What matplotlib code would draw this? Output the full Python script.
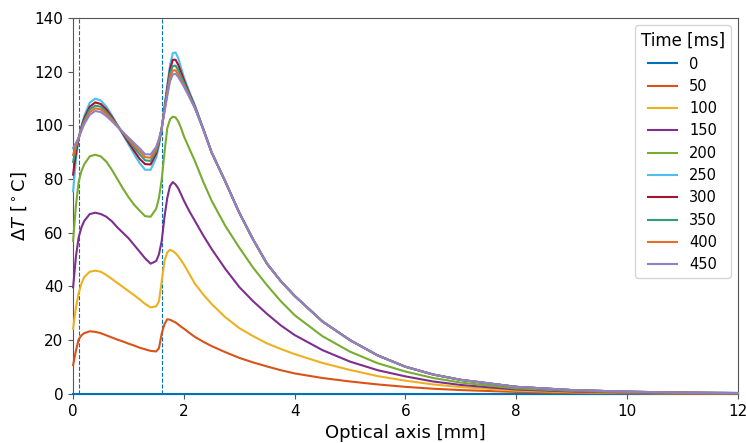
import matplotlib
matplotlib.use('Agg')
import matplotlib.pyplot as plt

# sample positions along the optical axis [mm]
x_mm = [0, 0.05, 0.1, 0.15, 0.2, 0.3, 0.4, 0.5, 0.6, 0.7,
        0.8, 0.9, 1.0, 1.1, 1.2, 1.3, 1.4, 1.5, 1.55, 1.6,
        1.65, 1.7, 1.75, 1.8, 1.85, 1.9, 1.95, 2.0, 2.1, 2.2,
        2.35, 2.5, 2.75, 3.0, 3.25, 3.5, 3.75, 4.0, 4.5, 5.0,
        5.5, 6.0, 6.5, 7.0, 8.0, 9.0, 10.0, 11.0, 12.0]

times_ms = [0, 50, 100, 150, 200, 250, 300, 350, 400, 450]

# common tail of the 250..450 ms curves, from x = 2.5 mm on
tail_top = [90, 79, 67.5, 57.5, 48.5, 42, 36.5, 27, 20,
            14.3, 10.1, 7.2, 5.2, 2.6, 1.4, 0.8, 0.45, 0.3]

dT_0 = [0.0] * 49
dT_50 = [10.7, 16, 20.3, 21.8, 22.6, 23.3, 23.1, 22.6, 21.8, 21,
         20.2, 19.5, 18.7, 18, 17.2, 16.6, 16, 15.8, 17, 22.5,
         26, 27.8, 27.6, 27.1, 26.6, 25.8, 25, 24.3, 22.7, 21.2,
         19.4, 17.8, 15.5, 13.4, 11.7, 10.2, 8.8, 7.6, 5.9, 4.6,
         3.5, 2.6, 1.9, 1.4, 0.7, 0.35, 0.2, 0.1, 0.05]
dT_100 = [24.3, 32, 37.5, 41, 43.5, 45.5, 45.9, 45.5, 44.3, 42.8,
          41.3, 39.8, 38.3, 36.8, 35.2, 33.5, 32.2, 32.6, 34.5, 42,
          49.6, 52.7, 53.7, 53.2, 52.4, 51.2, 49.8, 48.2, 44.6, 41,
          37, 33.5, 28.5, 24.5, 21.5, 18.8, 16.7, 14.8, 11.5, 8.9,
          6.6, 4.9, 3.5, 2.5, 1.2, 0.6, 0.3, 0.18, 0.1]
dT_150 = [39.7, 51, 58.3, 62, 64.4, 67, 67.5, 67, 66, 64.3,
          62, 60, 58, 55.5, 53, 50.5, 48.5, 49.5, 52, 57,
          66, 73, 77.5, 78.9, 78, 76.5, 74.3, 72, 68, 64.4,
          59, 54, 46.5, 39.8, 34.5, 29.8, 25.5, 21.9, 16.3, 12,
          8.8, 6.5, 4.6, 3.3, 1.6, 0.85, 0.45, 0.25, 0.15]
dT_200 = [57, 70, 79, 83, 85.5, 88.5, 89.1, 88.5, 86.5, 83.5,
          80, 76.5, 73.3, 70.5, 68.3, 66.2, 66, 69, 73, 80,
          90, 99, 102.3, 103.3, 103, 101.5, 99, 96, 91.3, 86.7,
          79, 72, 62.5, 54.5, 47, 40.5, 34.5, 29.3, 21.5, 15.7,
          11.4, 8.3, 5.9, 4.2, 2.0, 1.1, 0.6, 0.35, 0.2]
dT_250 = [75.5, 87, 95, 99.8, 103.5, 108.5, 110, 109.3, 107, 103.8,
          100.2, 96.6, 93, 89.4, 86, 83.5, 83.5, 88, 92.5, 99,
          107, 115, 122.5, 127, 127.2, 125, 121.5, 118, 112.5, 107.5,
          98.8] + tail_top
dT_300 = [81.7, 89.5, 95.2, 99.3, 102.6, 107, 108.6, 108, 106, 103.2,
          100, 96.9, 93.7, 90.6, 87.6, 85.6, 85.5, 89.5, 93.5, 99,
          106.5, 114, 121, 124.5, 124.5, 122.5, 119.8, 117, 111.8, 107,
          98.7] + tail_top
dT_350 = [86.4, 91.5, 95.3, 98.8, 101.8, 106, 107.4, 107, 105, 102.6,
          100, 97.3, 94.5, 91.8, 89.3, 87, 86.8, 90.5, 94, 99,
          106, 113, 119.5, 122.2, 122.3, 120.5, 118.3, 116, 111.3, 106.7,
          98.6] + tail_top
dT_400 = [89, 92.5, 95.4, 98.5, 101, 105, 106.4, 106, 104.3, 102.2,
          99.8, 97.4, 95, 92.7, 90.5, 88.2, 88, 91.3, 94.5, 99,
          105.5, 112, 118, 120.5, 120.6, 119, 117, 115, 110.8, 106.5,
          98.5] + tail_top
dT_450 = [91.6, 93.5, 95.5, 98, 100.5, 104, 105.4, 105, 103.5, 101.6,
          99.5, 97.5, 95.5, 93.5, 91.5, 89.3, 89.2, 92, 95, 99,
          105, 111, 116.5, 119, 119.3, 118, 116.3, 114.5, 110.5, 106.4,
          98.5] + tail_top

curves = [dT_0, dT_50, dT_100, dT_150, dT_200, dT_250, dT_300, dT_350, dT_400, dT_450]
colors = ['#0072BD', '#D95319', '#EDB120', '#7E2F8E', '#77AC30',
          '#4DBEEE', '#A2142F', '#2E9E7E', '#E66F27', '#8B83C9']

# lens surface positions [mm]
surfaces = [0.1, 1.6]

fig = plt.figure(figsize=(7.46, 4.43), dpi=100)
ax = fig.add_axes([0.098, 0.111, 0.891, 0.848])

for t, y, c in zip(times_ms, curves, colors):
    ax.plot(x_mm, y, color=c, lw=1.5, label=str(t), clip_on=False, zorder=3)

for s in surfaces:
    ax.axvline(s, color='#0072BD', lw=0.8, ls='--')

ax.set_xlim(0, 12)
ax.set_ylim(0, 140)
ax.set_xticks([0, 2, 4, 6, 8, 10, 12])
ax.set_yticks([0, 20, 40, 60, 80, 100, 120, 140])
ax.tick_params(labelsize=11, color='#555555')
for sp in ax.spines.values():
    sp.set_color('#555555')

ax.set_xlabel('Optical axis [mm]', fontsize=13)
ax.set_ylabel(r'$\Delta T$ [$^\circ$C]', fontsize=13)

leg = ax.legend(title='Time [ms]', loc='upper right', fontsize=10.5,
                title_fontsize=12, frameon=True)

fig.savefig('out.png', dpi=100)
